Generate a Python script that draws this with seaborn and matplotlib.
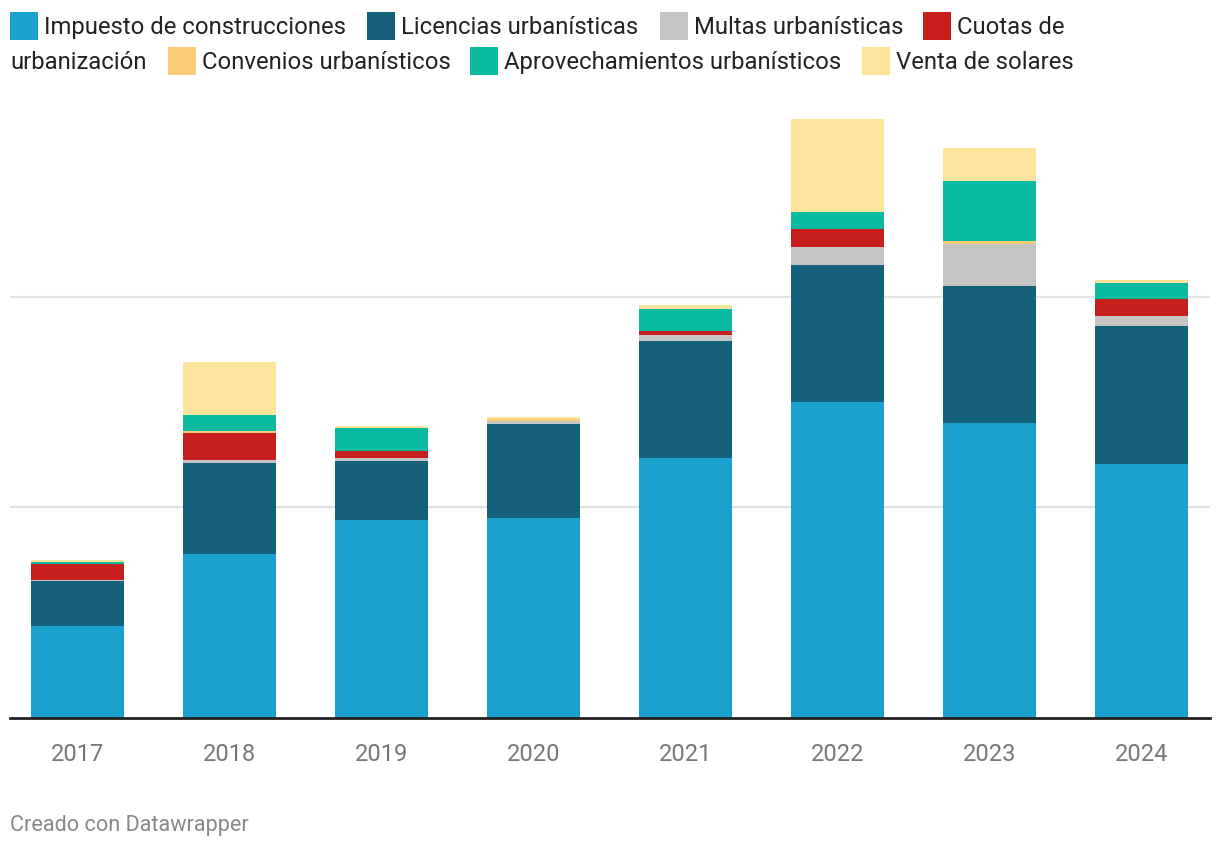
import matplotlib
matplotlib.use("Agg")
import matplotlib.pyplot as plt
import matplotlib.patches as mpatches
import numpy as np
import pandas as pd
import seaborn as sns

# ============================================
# DATA (millones de euros)
# ============================================

years = ["2017", "2018", "2019", "2020", "2021", "2022", "2023", "2024"]

impuesto = [4.37, 7.79, 9.41, 9.50, 12.35, 15.01, 14.01, 12.07]
licencias = [2.14, 4.32, 2.80, 4.47, 5.56, 6.51, 6.51, 6.56]
multas = [0.05, 0.14, 0.14, 0.14, 0.29, 0.86, 2.00, 0.48]
cuotas = [0.76, 1.28, 0.33, 0.00, 0.19, 0.86, 0.00, 0.81]
convenios = [0.00, 0.10, 0.00, 0.10, 0.00, 0.00, 0.14, 0.00]
aprovechamientos = [0.10, 0.76, 1.09, 0.00, 1.05, 0.81, 2.85, 0.76]
venta_solares = [0.10, 2.52, 0.10, 0.10, 0.19, 4.42, 1.57, 0.14]

series_names = ["Impuesto de construcciones", "Licencias urbanísticas",
                "Multas urbanísticas", "Cuotas de urbanización",
                "Convenios urbanísticos", "Aprovechamientos urbanísticos",
                "Venta de solares"]
series_values = [impuesto, licencias, multas, cuotas, convenios,
                 aprovechamientos, venta_solares]
colors = ["#1aa1ce", "#15607a", "#c5c5c5", "#c71f1e",
          "#fdca76", "#0abb9f", "#fee39d"]

df = pd.DataFrame(dict(zip(series_names, series_values)), index=years)
cum = df.cumsum(axis=1)

# ============================================
# PLOT
# ============================================

sns.set_style("white")
plt.rcParams["font.family"] = ["Roboto", "DejaVu Sans"]

W, H = 1220, 852
fig = plt.figure(figsize=(W / 100, H / 100), dpi=100)
ax = fig.add_axes([10 / W, 1 - 718 / H, 1200 / W, (718 - 100) / H])

# stacked bars: draw cumulative totals from top to bottom
for name, color in reversed(list(zip(series_names, colors))):
    sns.barplot(x=years, y=cum[name].values, order=years, color=color,
                saturation=1, width=0.61, linewidth=0, ax=ax)

ax.set_xlim(-0.444, 7.45)
ax.set_ylim(0, (718 - 100) / 21.05)
ax.set_yticks([10, 20])
ax.set_yticklabels([])
ax.tick_params(axis="y", length=0)
ax.yaxis.grid(True, color="#e3e3e3", linewidth=1.5)
ax.set_axisbelow(True)
for s in ["top", "right", "left"]:
    ax.spines[s].set_visible(False)
ax.spines["bottom"].set_color("#222222")
ax.spines["bottom"].set_linewidth(2)
ax.tick_params(axis="x", length=9, width=2, color="#222222",
               labelsize=17, labelcolor="#777777", pad=9)
ax.set_xlabel("")
ax.set_ylabel("")

# ============================================
# LEGEND (Datawrapper style, wrapped)
# ============================================

def px(x, y):
    return x / W, 1 - y / H

legend_items = [
    (0, 10, 26, "Impuesto de construcciones"),
    (1, 367, 26, "Licencias urbanísticas"),
    (2, 660, 26, "Multas urbanísticas"),
    (3, 923, 26, "Cuotas de"),
    (4, 168, 61, "Convenios urbanísticos"),
    (5, 470, 61, "Aprovechamientos urbanísticos"),
    (6, 862, 61, "Venta de solares"),
]
for i, x0, yc, label in legend_items:
    fx, fy = px(x0, yc + 14)
    fig.patches.append(mpatches.Rectangle((fx, fy), 28 / W, 28 / H,
                                          transform=fig.transFigure,
                                          color=colors[i], linewidth=0))
    tx, ty = px(x0 + 34, yc + 1.5)
    fig.text(tx, ty, label, fontsize=17.2, color="#222222", va="center")

tx, ty = px(10, 62.5)
fig.text(tx, ty, "urbanización", fontsize=17.2, color="#222222", va="center")

tx, ty = px(10, 826)
fig.text(tx, ty, "Creado con Datawrapper", fontsize=15.6, color="#888888",
         va="center")

fig.savefig("out.png", dpi=100)
